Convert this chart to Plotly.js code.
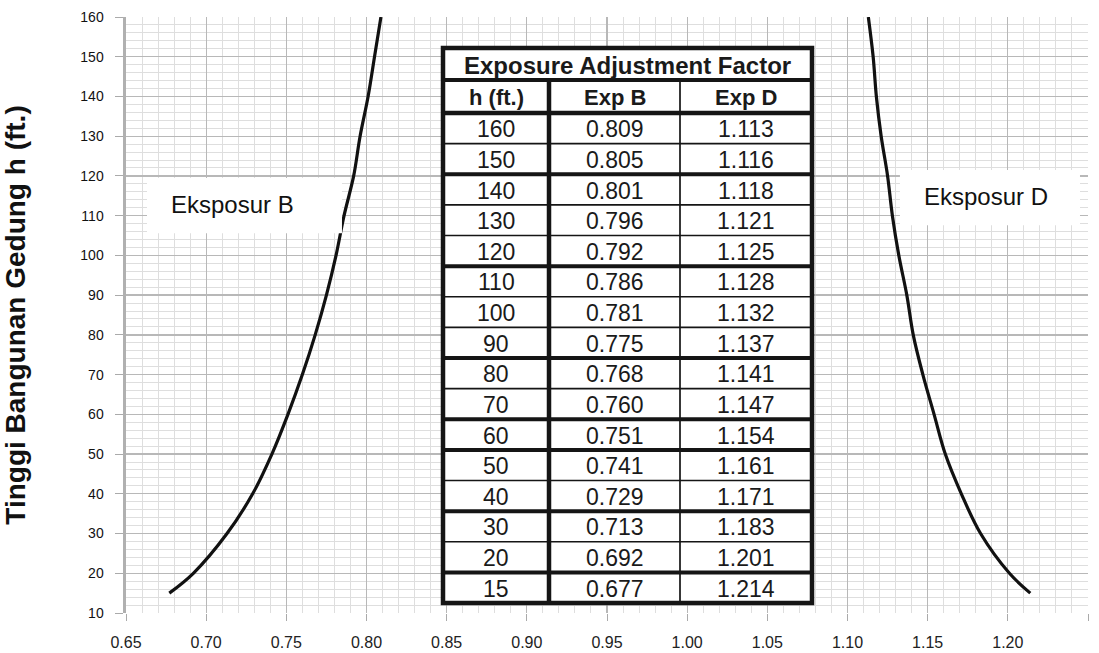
<!DOCTYPE html>
<html>
<head>
<meta charset="utf-8">
<script src="https://cdn.plot.ly/plotly-3.0.1.min.js"></script>
<style>
html,body{margin:0;padding:0;background:#fff;}
#chart{width:1099px;height:653px;}
</style>
</head>
<body>
<div id="chart"></div>
<script>
// ---------------- data ----------------
const heights = [160, 150, 140, 130, 120, 110, 100, 90, 80, 70, 60, 50, 40, 30, 20, 15];
const expB = [0.809, 0.805, 0.801, 0.796, 0.792, 0.786, 0.781, 0.775, 0.768, 0.760, 0.751, 0.741, 0.729, 0.713, 0.692, 0.677];
const expD = [1.113, 1.116, 1.118, 1.121, 1.125, 1.128, 1.132, 1.137, 1.141, 1.147, 1.154, 1.161, 1.171, 1.183, 1.201, 1.214];
const tableTitle = 'Exposure Adjustment Factor';
const columnHeaders = ['h (ft.)', 'Exp B', 'Exp D'];
const labelB = 'Eksposur B';
const labelD = 'Eksposur D';
const yTitle = 'Tinggi Bangunan Gedung h (ft.)';

// ---------------- layout geometry ----------------
const W = 1099, H = 653;
const M = {l: 126, r: 11, t: 17, b: 40};
const PW = W - M.l - M.r, PH = H - M.t - M.b;
const px2x = p => (p - M.l) / PW;          // pixel -> paper x
const py2y = p => (H - M.b - p) / PH;      // pixel -> paper y

const tbl = {colEdges: [443, 549, 680, 812], titleTop: 48, headTop: 80, headH: 33, bottom: 603};
const bodyTop = tbl.headTop + tbl.headH;
const rowH = (tbl.bottom - bodyTop) / heights.length;
const thickAfterRows = [1, 4, 7, 9, 10, 12, 14];
const TL = tbl.colEdges[0], TR = tbl.colEdges[3];
const INK = '#151515';
const FONT = 'Liberation Sans, Arial, sans-serif';

const shapes = [];
const paperRect = (x0, y0, x1, y1, extra) => Object.assign({type: 'rect', xref: 'paper', yref: 'paper', x0: px2x(x0), x1: px2x(x1), y0: py2y(y1), y1: py2y(y0), layer: 'above'}, extra);
const paperLine = (x0, y0, x1, y1, w) => ({type: 'line', xref: 'paper', yref: 'paper', x0: px2x(x0), x1: px2x(x1), y0: py2y(y0), y1: py2y(y1), layer: 'above', line: {color: INK, width: w}});

// table background
shapes.push(paperRect(TL, tbl.titleTop, TR, tbl.bottom, {fillcolor: '#ffffff', line: {width: 0}}));
// thin row separators and thin column divider
for (let i = 0; i < heights.length - 1; i++) {
  if (thickAfterRows.indexOf(i) >= 0) continue;
  const yy = bodyTop + (i + 1) * rowH;
  shapes.push(paperLine(TL, yy, TR, yy, 1.7));
}
shapes.push(paperLine(tbl.colEdges[2], tbl.headTop, tbl.colEdges[2], tbl.bottom, 1.7));
// heavy lines
shapes.push(paperLine(TL, tbl.headTop, TR, tbl.headTop, 4));
shapes.push(paperLine(TL, bodyTop, TR, bodyTop, 4.5));
shapes.push(paperLine(tbl.colEdges[1], tbl.headTop, tbl.colEdges[1], tbl.bottom, 4.5));
thickAfterRows.forEach(i => {
  const yy = bodyTop + (i + 1) * rowH;
  shapes.push(paperLine(TL, yy, TR, yy, 4));
});
shapes.push(paperRect(TL, tbl.titleTop, TR, tbl.bottom, {fillcolor: 'rgba(0,0,0,0)', line: {color: INK, width: 4.5}}));

// label boxes (data coordinates)
shapes.push({type: 'rect', xref: 'x', yref: 'y', x0: 0.6631, x1: 0.7847, y0: 105.6, y1: 119.5, fillcolor: '#ffffff', line: {width: 0}, layer: 'above'});
shapes.push({type: 'rect', xref: 'x', yref: 'y', x0: 1.1327, x1: 1.2450, y0: 107.6, y1: 121.5, fillcolor: '#ffffff', line: {width: 0}, layer: 'above'});

const curveStyle = {color: '#111111', width: 3.2, shape: 'spline', smoothing: 1.0};
const traces = [
  {type: 'scatter', mode: 'lines', x: expB, y: heights, line: curveStyle, name: 'Exp B', hoverinfo: 'x+y'},
  {type: 'scatter', mode: 'lines', x: expD, y: heights, line: curveStyle, name: 'Exp D', hoverinfo: 'x+y'}
];

// ---------------- table text ----------------
const colCenters = [0, 1, 2].map(c => (tbl.colEdges[c] + tbl.colEdges[c + 1]) / 2);
const cellText = (txt, cx, cy, size, bold) => ({
  xref: 'paper', yref: 'paper', x: px2x(cx), y: py2y(cy),
  text: bold ? '<b>' + txt + '</b>' : txt,
  showarrow: false, xanchor: 'center', yanchor: 'middle',
  font: {family: FONT, size: size, color: '#1a1a1a'}
});
const annotations = [];
annotations.push(cellText(tableTitle, (TL + TR) / 2, (tbl.titleTop + tbl.headTop) / 2 + 1, 24, true));
columnHeaders.forEach((h, c) => annotations.push(cellText(h, colCenters[c], tbl.headTop + tbl.headH / 2 + 1, 22, true)));
const columns = [heights.map(String), expB.map(v => v.toFixed(3)), expD.map(v => v.toFixed(3))];
columns.forEach((col, c) => col.forEach((txt, i) => {
  annotations.push(cellText(txt, colCenters[c], bodyTop + (i + 0.5) * rowH + 1, 23, false));
}));

annotations.push({xref: 'x', yref: 'y', x: 0.6768, y: 112.7, text: labelB, showarrow: false, xanchor: 'left', yanchor: 'middle', font: {family: FONT, size: 24, color: '#111'}});
annotations.push({xref: 'x', yref: 'y', x: 1.1465, y: 114.7, text: labelD, showarrow: false, xanchor: 'left', yanchor: 'middle', font: {family: FONT, size: 24, color: '#111'}});

const layout = {
  width: W, height: H,
  margin: M,
  paper_bgcolor: '#ffffff', plot_bgcolor: '#ffffff',
  showlegend: false,
  xaxis: {
    range: [0.65, 1.25], dtick: 0.05, tick0: 0.65, tickformat: '.2f',
    showgrid: true, gridcolor: '#b8b8b8', gridwidth: 1.3,
    minor: {dtick: 0.01, showgrid: true, gridcolor: '#dedede', gridwidth: 1},
    zeroline: false, showline: false,
    ticks: 'outside', ticklen: 7, tickcolor: '#aaaaaa', tickwidth: 1,
    ticklabelstandoff: 8,
    tickfont: {family: FONT, size: 16, color: '#222'},
    fixedrange: true
  },
  yaxis: {
    range: [10, 160], dtick: 10, tick0: 10,
    showgrid: true, gridcolor: '#b8b8b8', gridwidth: 1.3,
    minor: {dtick: 2, showgrid: true, gridcolor: '#dedede', gridwidth: 1},
    zeroline: false, showline: true, linecolor: '#b0b0b0', linewidth: 3.5,
    ticks: 'outside', ticklen: 8, tickcolor: '#aaaaaa', tickwidth: 1,
    ticklabelstandoff: 8,
    tickfont: {family: FONT, size: 14, color: '#111'},
    title: {text: '<b>' + yTitle + '</b>', standoff: 52, font: {family: FONT, size: 28, color: '#111'}},
    automargin: false,
    fixedrange: true
  },
  shapes: shapes,
  annotations: annotations
};

Plotly.newPlot('chart', traces, layout, {displayModeBar: false, staticPlot: true});
</script>
</body>
</html>
